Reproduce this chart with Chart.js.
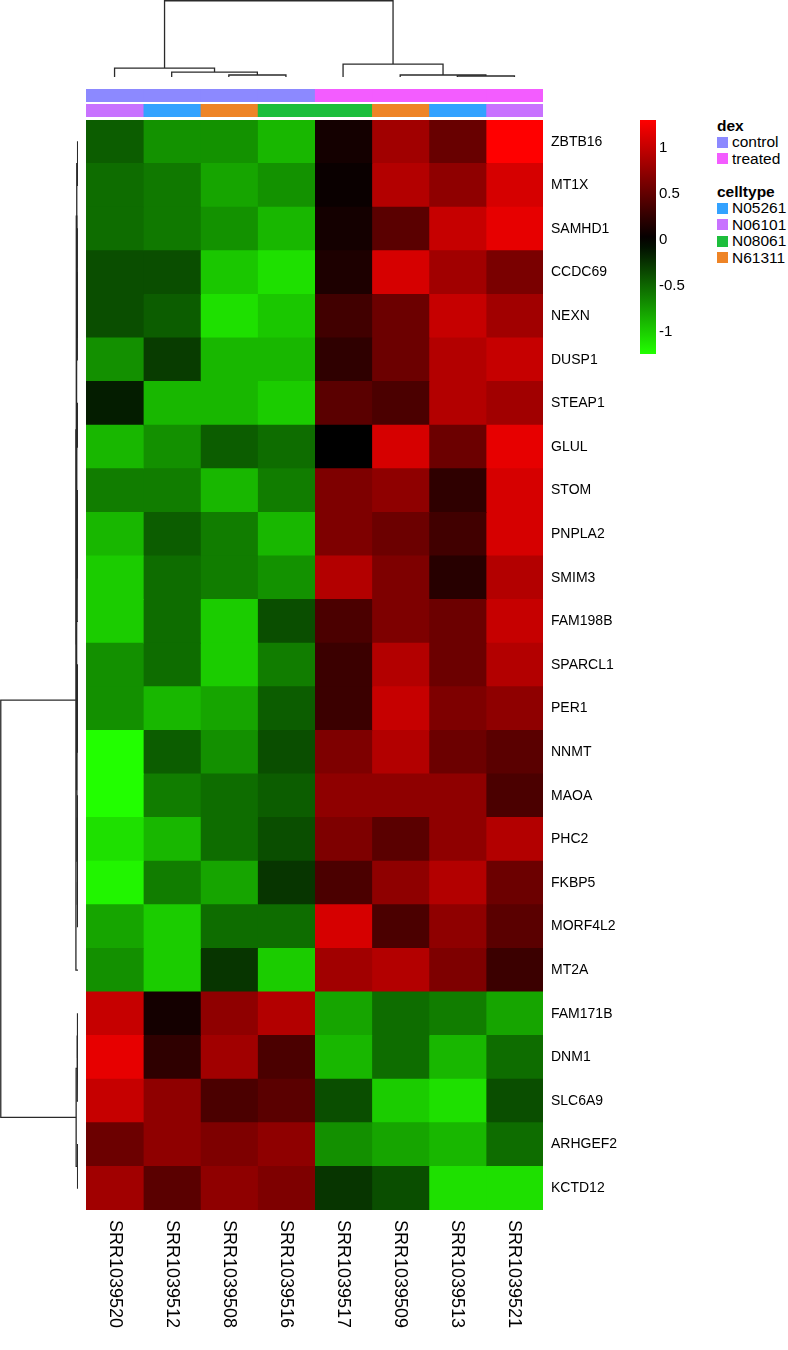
<!DOCTYPE html>
<html><head><meta charset="utf-8">
<script src="https://cdn.jsdelivr.net/npm/chart.js@4.4.1/dist/chart.umd.min.js"></script>
<style>
html,body{margin:0;padding:0;background:#fff;}
body{width:788px;height:1350px;position:relative;overflow:hidden;font-family:"Liberation Sans",Arial,sans-serif;}
canvas{position:absolute;}
.leg{position:absolute;left:717px;font-size:15.5px;color:#000;height:16.5px;line-height:16.5px;white-space:nowrap;display:flex;align-items:center;}
.leg b{font-weight:bold;}
.sw{width:11px;height:11px;margin-right:4px;display:inline-block;}
</style></head><body>
<canvas id="colDend" width="457" height="77" style="left:86px;top:0px"></canvas>
<canvas id="ann" width="457" height="30" style="left:86px;top:88px"></canvas>
<canvas id="rowDend" width="78" height="1090" style="left:0px;top:120px"></canvas>
<canvas id="heat" width="537" height="1220" style="left:86px;top:120px"></canvas>
<canvas id="cbar" width="70" height="254" style="left:640px;top:110px"></canvas>
<div id="legend"></div>
<script>
// ---------- DATA ----------
const samples = ["SRR1039520","SRR1039512","SRR1039508","SRR1039516","SRR1039517","SRR1039509","SRR1039513","SRR1039521"];
const dex = ["control","control","control","control","treated","treated","treated","treated"];
const celltype = ["N06101","N05261","N61311","N08061","N08061","N61311","N05261","N06101"];
const genes = ["ZBTB16","MT1X","SAMHD1","CCDC69","NEXN","DUSP1","STEAP1","GLUL","STOM","PNPLA2","SMIM3","FAM198B","SPARCL1","PER1","NNMT","MAOA","PHC2","FKBP5","MORF4L2","MT2A","FAM171B","DNM1","SLC6A9","ARHGEF2","KCTD12"];
// row z-scores, one array per gene, columns in sample order
const expr = [
 [-0.45,-0.71,-0.71,-0.89,0.10,0.82,0.53,1.30],
 [-0.53,-0.59,-0.80,-0.71,0.05,0.91,0.73,1.09],
 [-0.53,-0.59,-0.71,-0.89,0.10,0.46,1.01,1.18],
 [-0.38,-0.38,-0.97,-1.09,0.15,1.09,0.82,0.62],
 [-0.38,-0.45,-1.09,-0.97,0.33,0.55,1.01,0.82],
 [-0.70,-0.29,-0.89,-0.89,0.24,0.55,0.91,1.01],
 [-0.14,-0.89,-0.89,-0.99,0.46,0.38,0.91,0.82],
 [-0.89,-0.70,-0.45,-0.53,0.00,1.09,0.55,1.18],
 [-0.61,-0.61,-0.89,-0.61,0.64,0.73,0.24,1.09],
 [-0.89,-0.45,-0.61,-0.89,0.64,0.55,0.33,1.09],
 [-0.99,-0.53,-0.61,-0.71,0.91,0.64,0.20,0.91],
 [-0.99,-0.53,-0.99,-0.38,0.38,0.64,0.55,1.01],
 [-0.70,-0.53,-0.99,-0.61,0.30,0.91,0.55,0.91],
 [-0.70,-0.89,-0.80,-0.45,0.30,1.01,0.64,0.73],
 [-1.24,-0.45,-0.70,-0.38,0.64,0.91,0.55,0.46],
 [-1.24,-0.61,-0.53,-0.45,0.73,0.73,0.73,0.38],
 [-1.09,-0.89,-0.53,-0.38,0.64,0.46,0.73,0.91],
 [-1.19,-0.61,-0.80,-0.26,0.38,0.73,0.91,0.55],
 [-0.80,-0.99,-0.53,-0.53,1.09,0.38,0.73,0.46],
 [-0.70,-0.99,-0.26,-0.99,0.82,0.91,0.64,0.30],
 [1.01,0.10,0.73,0.91,-0.80,-0.53,-0.61,-0.80],
 [1.18,0.24,0.82,0.38,-0.89,-0.53,-0.89,-0.53],
 [1.01,0.73,0.38,0.46,-0.38,-0.99,-1.09,-0.38],
 [0.55,0.73,0.64,0.73,-0.70,-0.80,-0.89,-0.53],
 [0.82,0.46,0.73,0.64,-0.26,-0.38,-1.09,-1.09]
];
const colorbarTicks = [-1,-0.5,0,0.5,1];
const colorMin = -1.24, colorMax = 1.30;
// column dendrogram (hclust style: negative = leaf, positive = earlier merge)
const colMerge = [[-3,-4],[-2,1],[-1,2],[-7,-8],[-6,4],[-5,5],[3,6]];
const colHeight = [0.26,0.65,1.17,0.13,0.26,1.69,10];
// row dendrogram
const rowMerge = [[-1,-2],[-5,-6],[-4,2],[-3,3],[1,4],[-7,-8],[-10,-11],[-9,7],[8,-12],[6,9],
  [-13,-14],[11,-15],[-16,-17],[-18,-19],[13,14],[12,15],[10,16],[5,17],[18,-20],
  [-21,-22],[20,-23],[-24,-25],[21,22],[19,23]];
const rowHeight = [0.05,0.04,0.08,0.11,0.16,0.06,0.05,0.09,0.12,0.17,
  0.05,0.08,0.04,0.07,0.10,0.14,0.20,0.23,0.27,
  0.06,0.10,0.05,0.24,10];
const dexColors = {control:"#8C89FF", treated:"#F35CFF"};
const cellColors = {N05261:"#33A2FF", N06101:"#C872FF", N08061:"#1DBE3C", N61311:"#EE8426"};

// ---------- HELPERS ----------
Chart.defaults.font.family = '"Liberation Sans", Arial, sans-serif';
Chart.defaults.color = '#000';
Chart.defaults.animation = false;
Chart.defaults.plugins.legend.display = false;
Chart.defaults.plugins.tooltip.enabled = false;

function heatColor(v){
  if (v >= 0){ const r = Math.round(Math.min(1, v/colorMax)*255); return `rgb(${r},0,0)`; }
  const g = Math.round(Math.min(1, v/colorMin)*255);
  return `rgb(${Math.round(g*0.133)},${g},0)`;
}
function treeSegments(merges, heights){
  const pos = [], segs = [];
  merges.forEach(([a,b],k)=>{
    const pa = a<0 ? (-a-1)+0.5 : pos[a-1], ha = a<0 ? 0 : heights[a-1];
    const pb = b<0 ? (-b-1)+0.5 : pos[b-1], hb = b<0 ? 0 : heights[b-1];
    pos[k] = (pa+pb)/2;
    segs.push([[pa,ha],[pa,heights[k]],[pb,heights[k]],[pb,hb]]);
  });
  return segs;
}
const lineStyle = {borderColor:'#2a2a2a', borderWidth:1.3, pointRadius:0, showLine:true, fill:false, clip:false, tension:0};

// ---------- COLUMN DENDROGRAM ----------
new Chart(document.getElementById('colDend'), {
  type:'scatter',
  data:{datasets: treeSegments(colMerge, colHeight).map(s=>({...lineStyle, data:s.map(([p,h])=>({x:p,y:h}))}))},
  options:{responsive:false, layout:{padding:0},
    scales:{x:{type:'linear',min:0,max:samples.length,display:false}, y:{type:'linear',min:0,max:10.1,display:false}}}
});

// ---------- ANNOTATION BARS ----------
new Chart(document.getElementById('ann'), {
  type:'bar',
  data:{labels:['dex','celltype'],
    datasets: samples.map((s,j)=>({data:[[j,j+1],[j,j+1]], backgroundColor:[dexColors[dex[j]], cellColors[celltype[j]]],
      borderWidth:0, grouped:false, barPercentage:0.8, categoryPercentage:1, inflateAmount:0.4}))},
  options:{indexAxis:'y', responsive:false, layout:{padding:0},
    scales:{x:{type:'linear',min:0,max:samples.length,display:false}, y:{display:false}}}
});

// ---------- ROW DENDROGRAM ----------
new Chart(document.getElementById('rowDend'), {
  type:'scatter',
  data:{datasets: treeSegments(rowMerge, rowHeight).map(s=>({...lineStyle, data:s.map(([p,h])=>({x:h,y:p}))}))},
  options:{responsive:false, layout:{padding:0},
    scales:{x:{type:'linear',min:0,max:10.1,reverse:true,display:false}, y:{type:'linear',min:0,max:genes.length,reverse:true,display:false}}}
});

// ---------- HEATMAP ----------
const sampleLabels = {
  id:'sampleLabels',
  afterDraw(chart){
    const ctx = chart.ctx, xs = chart.scales.x, bottom = chart.chartArea.bottom;
    ctx.save();
    ctx.font = '18px "Liberation Sans", Arial, sans-serif';
    ctx.fillStyle = '#000'; ctx.textAlign = 'left'; ctx.textBaseline = 'middle';
    samples.forEach((s,j)=>{
      ctx.save();
      ctx.translate(xs.getPixelForValue(j+0.5), bottom + 10);
      ctx.rotate(Math.PI/2);
      ctx.fillText(s, 0, 0);
      ctx.restore();
    });
    ctx.restore();
  }
};
new Chart(document.getElementById('heat'), {
  type:'bar',
  data:{labels:genes,
    datasets: samples.map((s,j)=>({label:s, data:genes.map(()=>[j,j+1]), backgroundColor:expr.map(r=>heatColor(r[j])),
      borderWidth:0, grouped:false, barPercentage:1, categoryPercentage:1, inflateAmount:0.5}))},
  options:{indexAxis:'y', responsive:false, layout:{padding:{left:0,top:0,right:0,bottom:130}},
    scales:{
      x:{type:'linear',min:0,max:samples.length,display:false},
      y:{position:'right', grid:{display:false, drawTicks:false}, border:{display:false},
         ticks:{padding:8, font:{size:14}, color:'#000', autoSkip:false},
         afterFit(scale){ scale.width = 80; scale.paddingTop = 0; scale.paddingBottom = 0; }}
    }},
  plugins:[sampleLabels]
});

// ---------- COLOR BAR ----------
new Chart(document.getElementById('cbar'), {
  type:'bar',
  data:{labels:[''], datasets:[{data:[[colorMin,colorMax]], borderWidth:0, barPercentage:1, categoryPercentage:1,
    backgroundColor(c){
      const ch = c.chart, ys = ch.scales.y;
      if (!ch.chartArea || !ys) return '#000';
      const g = ch.ctx.createLinearGradient(0, ys.getPixelForValue(colorMax), 0, ys.getPixelForValue(colorMin));
      const n = 24;
      for (let k=0;k<=n;k++){ const v = colorMax - (colorMax-colorMin)*k/n; g.addColorStop(k/n, heatColor(v)); }
      return g;
    }}]},
  options:{responsive:false, layout:{padding:{top:10,bottom:10,left:0,right:0}},
    scales:{
      x:{display:false},
      y:{type:'linear', min:colorMin, max:colorMax, position:'right', grid:{display:false, drawTicks:false}, border:{display:false},
         afterBuildTicks(scale){ scale.ticks = colorbarTicks.map(v=>({value:v})); },
         ticks:{padding:3, font:{size:15}, color:'#000', callback:(v)=>String(v)},
         afterFit(scale){ scale.width = 54; scale.paddingTop = 0; scale.paddingBottom = 0; }}
    }}
});

// ---------- LEGEND (HTML text) ----------
const leg = document.getElementById('legend');
function addLeg(top, html){ const d = document.createElement('div'); d.className='leg'; d.style.top = top+'px'; d.innerHTML = html; leg.appendChild(d); }
let t = 117.5;
addLeg(t, '<b>dex</b>'); t += 16.5;
Object.keys(dexColors).forEach(k=>{ addLeg(t, `<span class="sw" style="background:${dexColors[k]}"></span>${k}`); t += 16.5; });
t += 16.5;
addLeg(t, '<b>celltype</b>'); t += 16.5;
Object.keys(cellColors).forEach(k=>{ addLeg(t, `<span class="sw" style="background:${cellColors[k]}"></span>${k}`); t += 16.5; });
</script>
</body></html>
